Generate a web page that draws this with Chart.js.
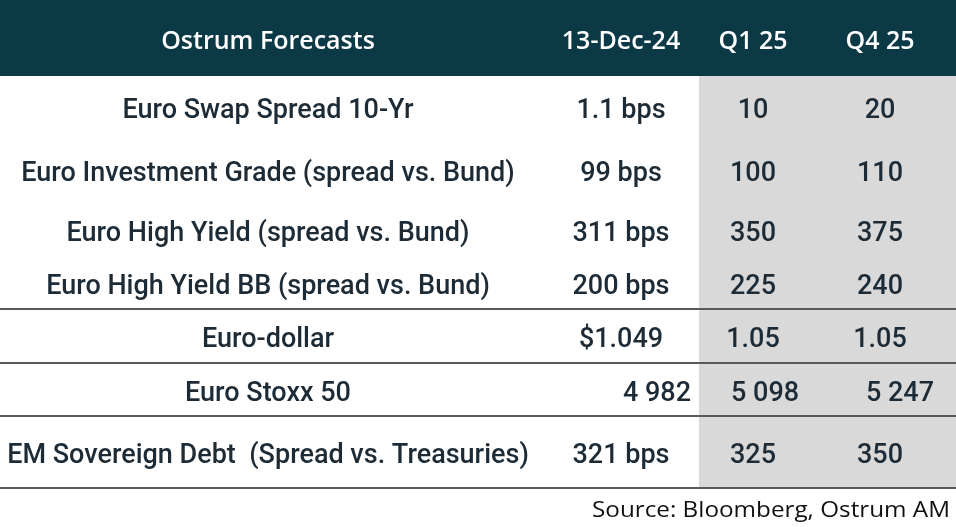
<!DOCTYPE html>
<html>
<head>
<meta charset="utf-8">
<script src="https://cdn.jsdelivr.net/npm/chart.js@4"></script>
<style>
  html, body { margin: 0; padding: 0; background: #ffffff; }
  #wrap { width: 956px; height: 527px; position: relative; }
</style>
</head>
<body>
<div id="wrap"><canvas id="c"></canvas></div>
<script>
// ---- data ----
const headers = ['Ostrum Forecasts', '13-Dec-24', 'Q1 25', 'Q4 25'];
const categories = [
  'Euro Swap Spread 10-Yr',
  'Euro Investment Grade (spread vs. Bund)',
  'Euro High Yield (spread vs. Bund)',
  'Euro High Yield BB (spread vs. Bund)',
  'Euro-dollar',
  'Euro Stoxx 50',
  'EM Sovereign Debt  (Spread vs. Treasuries)'
];
const spot13Dec24 = ['1.1 bps', '99 bps', '311 bps', '200 bps', '$1.049', '4 982', '321 bps'];
const forecastQ125 = ['10', '100', '350', '225', '1.05', '5 098', '325'];
const forecastQ425 = ['20', '110', '375', '240', '1.05', '5 247', '350'];
const sourceNote = 'Source: Bloomberg, Ostrum AM';

// ---- layout (table units, mapped through the chart scales) ----
const W = 956, H = 527;
const colCenter = [268, 621, 753, 880];
const rowBaseline = [118, 181, 241, 294, 347, 401, 463];
const headerBaseline = 49;
const headerBand = { y0: 0, y1: 76 };
const greyBand = { x0: 699, x1: 956, y0: 76, y1: 487 };
const ruleY = [309, 363, 416, 488];
const sourceBox = { right: 950, baseline: 517, width: 358 };
// per-cell alignment overrides: [row, col] -> {align, x}
const alignOverride = { '5,1': { align: 'right', x: 691 }, '5,2': { align: 'left', x: 731 }, '5,3': { align: 'right', x: 934 } };

const style = {
  headerBg: '#0b3a46',
  headerText: '#ffffff',
  grey: '#d9d9d9',
  rule: '#595959',
  body: '#1d2b36',
  headerFont: '600 25px "Open Sans"',
  bodyFont: '500 27px Roboto',
  sourceFont: '400 21px "Open Sans"'
};

const columns = [categories, spot13Dec24, forecastQ125, forecastQ425];

// one invisible point per cell, placed through the scales
const cellPoints = [];
columns.forEach((col, c) => col.forEach((v, r) => cellPoints.push({ x: colCenter[c], y: rowBaseline[r], r, c, text: v })));
const headerPoints = headers.map((h, c) => ({ x: colCenter[c], y: headerBaseline, c, text: h }));

const tablePlugin = {
  id: 'tablePlugin',
  beforeDatasetsDraw(chart) {
    const { ctx, scales: { x, y } } = chart;
    ctx.save();
    ctx.fillStyle = style.headerBg;
    ctx.fillRect(x.getPixelForValue(0), y.getPixelForValue(headerBand.y0), x.getPixelForValue(W) - x.getPixelForValue(0), y.getPixelForValue(headerBand.y1) - y.getPixelForValue(headerBand.y0));
    ctx.fillStyle = style.grey;
    ctx.fillRect(x.getPixelForValue(greyBand.x0), y.getPixelForValue(greyBand.y0), x.getPixelForValue(greyBand.x1) - x.getPixelForValue(greyBand.x0), y.getPixelForValue(greyBand.y1) - y.getPixelForValue(greyBand.y0));
    ctx.strokeStyle = style.rule;
    ctx.lineWidth = 2;
    ruleY.forEach(v => {
      const py = Math.round(y.getPixelForValue(v));
      ctx.beginPath();
      ctx.moveTo(x.getPixelForValue(0), py);
      ctx.lineTo(x.getPixelForValue(W), py);
      ctx.stroke();
    });
    ctx.restore();
  },
  afterDatasetsDraw(chart) {
    const { ctx, scales: { x, y } } = chart;
    ctx.save();
    ctx.textBaseline = 'alphabetic';
    chart.getDatasetMeta(1).data.forEach((el, i) => {
      const p = headerPoints[i];
      ctx.font = style.headerFont;
      ctx.fillStyle = style.headerText;
      ctx.textAlign = 'center';
      ctx.fillText(p.text, el.x, el.y);
    });
    chart.getDatasetMeta(0).data.forEach((el, i) => {
      const p = cellPoints[i];
      ctx.font = style.bodyFont;
      ctx.fillStyle = style.body;
      const ov = alignOverride[p.r + ',' + p.c];
      if (ov) {
        ctx.textAlign = ov.align;
        ctx.fillText(p.text, x.getPixelForValue(ov.x), el.y);
      } else {
        ctx.textAlign = 'center';
        ctx.fillText(p.text, el.x, el.y);
      }
    });
    // source note, fitted to the reference width
    ctx.font = style.sourceFont;
    ctx.fillStyle = '#111111';
    ctx.textAlign = 'right';
    const mw = ctx.measureText(sourceNote).width;
    const sx = Math.min(1.25, sourceBox.width / mw);
    ctx.translate(x.getPixelForValue(sourceBox.right), y.getPixelForValue(sourceBox.baseline));
    ctx.scale(sx, 1);
    ctx.fillText(sourceNote, 0, 0);
    ctx.restore();
  }
};

new Chart(document.getElementById('c'), {
  type: 'scatter',
  data: {
    datasets: [
      { label: 'cells', data: cellPoints, pointRadius: 0, pointHoverRadius: 0 },
      { label: 'headers', data: headerPoints, pointRadius: 0, pointHoverRadius: 0 }
    ]
  },
  options: {
    responsive: true,
    maintainAspectRatio: false,
    animation: false,
    events: [],
    layout: { padding: 0 },
    plugins: { legend: { display: false }, tooltip: { enabled: false }, title: { display: false } },
    scales: {
      x: { type: 'linear', min: 0, max: W, display: false },
      y: { type: 'linear', min: 0, max: H, reverse: true, display: false }
    }
  },
  plugins: [tablePlugin]
});
</script>
</body>
</html>
